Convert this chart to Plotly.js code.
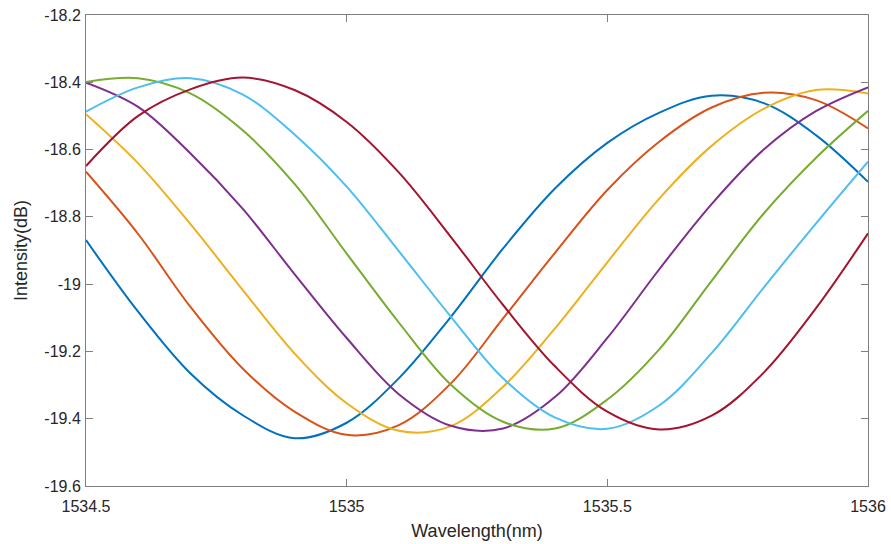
<!DOCTYPE html>
<html>
<head>
<meta charset="utf-8">
<script src="https://cdn.plot.ly/plotly-3.0.1.min.js"></script>
<style>html,body{margin:0;padding:0;background:#fff;}#chart{width:891px;height:544px;}</style>
</head>
<body>
<div id="chart"></div>
<script>
const wavelength = [1534.5,1534.6,1534.7,1534.8,1534.9,1535.0,1535.1,1535.2,1535.3,1535.4,1535.5,1535.6,1535.7,1535.8,1535.9,1536.0];
const s1 = [-18.869,-19.082,-19.265,-19.389,-19.458,-19.412,-19.280,-19.097,-18.894,-18.715,-18.580,-18.490,-18.440,-18.462,-18.557,-18.696];
const s2 = [-18.666,-18.851,-19.067,-19.250,-19.379,-19.448,-19.419,-19.295,-19.102,-18.906,-18.720,-18.576,-18.475,-18.431,-18.453,-18.537];
const s3 = [-18.495,-18.641,-18.821,-19.016,-19.206,-19.354,-19.436,-19.422,-19.305,-19.131,-18.935,-18.745,-18.589,-18.479,-18.423,-18.433];
const s4 = [-18.401,-18.473,-18.611,-18.775,-18.970,-19.160,-19.327,-19.421,-19.429,-19.335,-19.160,-18.955,-18.762,-18.600,-18.486,-18.415];
const s5 = [-18.399,-18.388,-18.433,-18.542,-18.702,-18.909,-19.114,-19.299,-19.409,-19.429,-19.343,-19.193,-18.990,-18.790,-18.625,-18.485];
const s6 = [-18.487,-18.415,-18.388,-18.436,-18.555,-18.710,-18.902,-19.097,-19.280,-19.397,-19.430,-19.360,-19.205,-19.010,-18.820,-18.636];
const s7 = [-18.649,-18.500,-18.421,-18.386,-18.423,-18.518,-18.668,-18.860,-19.062,-19.245,-19.379,-19.432,-19.391,-19.263,-19.072,-18.849];
const seriesList = [s1,s2,s3,s4,s5,s6,s7];
const colors = ['#0072BD','#D95319','#EDB120','#7E2F8E','#77AC30','#4DBEEE','#A2142F'];
const xTickVals = [1534.5,1535,1535.5,1536];
const xTickText = ['1534.5','1535','1535.5','1536'];
const yTickVals = [-18.2,-18.4,-18.6,-18.8,-19,-19.2,-19.4,-19.6];
const yTickText = ['-18.2','-18.4','-18.6','-18.8','-19','-19.2','-19.4','-19.6'];

const traces = seriesList.map((s,i)=>({
  x: wavelength, y: s, type:'scatter', mode:'lines',
  line:{color:colors[i], width:2, shape:'spline', smoothing:1},
  showlegend:false, hoverinfo:'skip'
}));

const fontFam = '"Liberation Sans", Arial, sans-serif';
const layout = {
  width:891, height:544,
  margin:{l:86, r:23, t:15, b:58},
  paper_bgcolor:'#fff', plot_bgcolor:'#fff',
  font:{family:fontFam, size:16, color:'#262626'},
  xaxis:{
    range:[1534.5,1536], tickvals:xTickVals, ticktext:xTickText,
    ticks:'inside', ticklen:7, tickcolor:'#808080', tickwidth:1,
    showline:true, linecolor:'#808080', linewidth:1, mirror:'ticks',
    showgrid:false, zeroline:false, ticklabelstandoff:6,
    tickfont:{family:fontFam, size:16, color:'#262626'},
    title:{text:'Wavelength(nm)', font:{family:fontFam, size:18, color:'#262626'}, standoff:10}
  },
  yaxis:{
    range:[-19.6,-18.2], tickvals:yTickVals, ticktext:yTickText,
    ticks:'inside', ticklen:7, tickcolor:'#808080', tickwidth:1,
    showline:true, linecolor:'#808080', linewidth:1, mirror:'ticks',
    showgrid:false, zeroline:false, ticklabelstandoff:1,
    tickfont:{family:fontFam, size:16, color:'#262626'},
    title:{text:'Intensity(dB)', font:{family:fontFam, size:18, color:'#262626'}, standoff:12}
  }
};
Plotly.newPlot('chart', traces, layout, {staticPlot:true, displayModeBar:false});
</script>
</body>
</html>
